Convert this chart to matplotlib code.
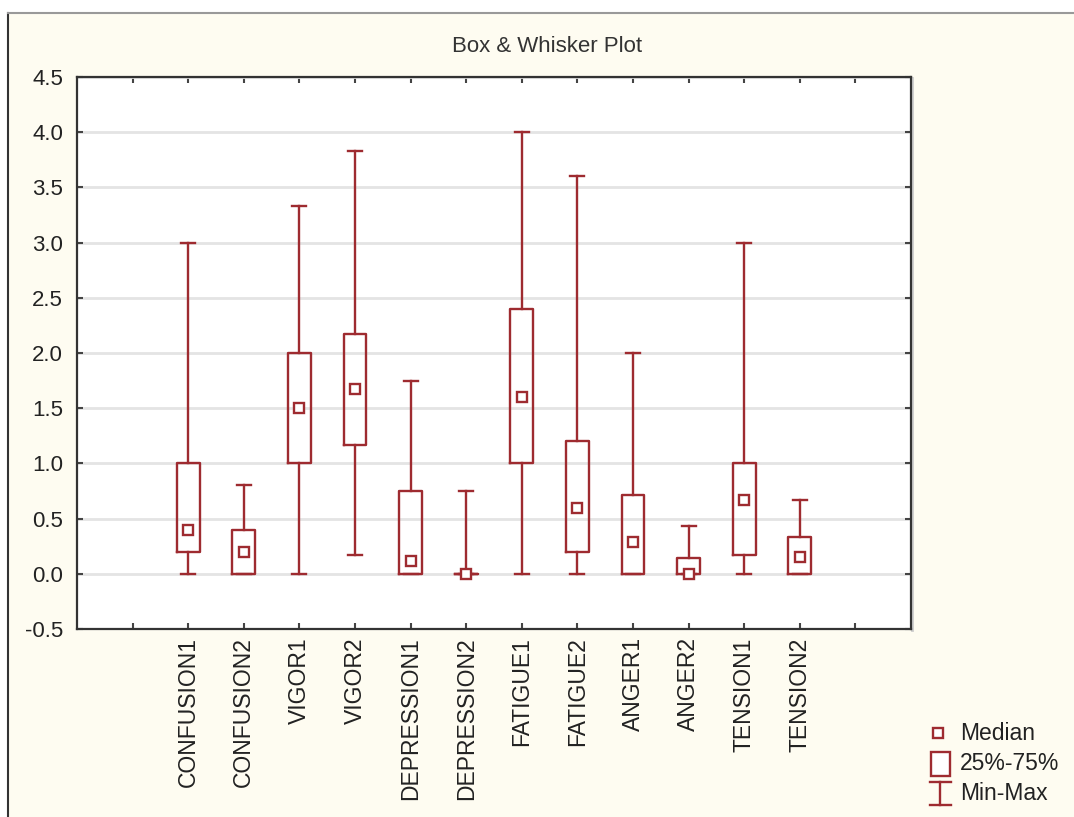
import matplotlib
matplotlib.use("Agg")
import matplotlib.pyplot as plt
from matplotlib.patches import Rectangle

plt.rcParams['font.family'] = ['Liberation Sans', 'DejaVu Sans']

categories = ["CONFUSION1", "CONFUSION2", "VIGOR1", "VIGOR2", "DEPRESSION1", "DEPRESSION2",
              "FATIGUE1", "FATIGUE2", "ANGER1", "ANGER2", "TENSION1", "TENSION2"]
mins    = [0.0, 0.0, 0.0, 0.17, 0.0, 0.0, 0.0, 0.0, 0.0, 0.0, 0.0, 0.0]
q1s     = [0.2, 0.0, 1.0, 1.17, 0.0, 0.0, 1.0, 0.2, 0.0, 0.0, 0.17, 0.0]
medians = [0.4, 0.2, 1.5, 1.67, 0.12, 0.0, 1.6, 0.6, 0.29, 0.0, 0.67, 0.15]
q3s     = [1.0, 0.4, 2.0, 2.17, 0.75, 0.0, 2.4, 1.2, 0.71, 0.14, 1.0, 0.33]
maxs    = [3.0, 0.8, 3.33, 3.83, 1.75, 0.75, 4.0, 3.6, 2.0, 0.43, 3.0, 0.67]
yticks  = [-0.5, 0.0, 0.5, 1.0, 1.5, 2.0, 2.5, 3.0, 3.5, 4.0, 4.5]
legend_labels = ["Median", "25%-75%", "Min-Max"]

RED = '#9E2B30'
CREAM = '#FEFCF1'
W, H = 1074, 817

fig = plt.figure(figsize=(W / 100, H / 100), dpi=100, facecolor='white')

# background panel / legend overlay in pixel coords
bg = fig.add_axes([0, 0, 1, 1], zorder=0)
bg.set_xlim(0, W)
bg.set_ylim(H, 0)
bg.axis('off')
bg.add_patch(Rectangle((8, 13), W - 8, H - 13, facecolor=CREAM, edgecolor='none'))
bg.plot([8, 8], [13, H], color='#333333', lw=1.5)
bg.plot([8, W], [13, 13], color='#999999', lw=1.5)
bg.plot([912, 912], [78, 630], color='#cccccc', lw=2)

ax = fig.add_axes([77 / W, 1 - 629 / H, (911 - 77) / W, (629 - 77) / H], zorder=1)
ax.set_facecolor('white')

positions = list(range(1, len(categories) + 1))
stats = []
for i, c in enumerate(categories):
    stats.append(dict(label=c, whislo=mins[i], q1=q1s[i], med=medians[i],
                      q3=q3s[i], whishi=maxs[i], fliers=[]))

ax.bxp(stats, positions=positions, widths=0.41, capwidths=0.25,
       boxprops=dict(color=RED, lw=1.7),
       whiskerprops=dict(color=RED, lw=1.7),
       capprops=dict(color=RED, lw=1.7),
       medianprops=dict(linestyle='none'),
       showfliers=False, manage_ticks=False, zorder=3)
ax.plot(positions, medians, linestyle='none', marker='s', ms=7, mfc='white',
        mec=RED, mew=1.7, zorder=4)

ax.set_xlim(-1, 14)
ax.set_ylim(-0.5, 4.5)
ax.set_yticks(yticks)
ax.set_yticklabels([f"{v:.1f}" for v in yticks], fontsize=16, color='#222222')
ax.set_xticks(range(0, 14))
ax.set_xticklabels([""] + categories + [""], rotation=90, fontsize=16.5, color='#222222')
ax.yaxis.grid(True, color='#e4e4e4', lw=2)
ax.set_axisbelow(True)
ax.tick_params(direction='in', length=4, width=1.5, color='#444444',
               top=True, right=True)
ax.tick_params(axis='x', pad=6)
ax.tick_params(axis='y', pad=10)
for s in ax.spines.values():
    s.set_color('#333333')
    s.set_linewidth(1.6)

fig.text(547 / W, 1 - 46 / H, "Box & Whisker Plot", ha='center', va='center',
         fontsize=16, color='#333333')

# legend (drawn manually)
bg.plot([938], [733], marker='s', ms=7, mfc='white', mec=RED, mew=1.7, linestyle='none')
bg.add_patch(Rectangle((931, 752), 19, 24, facecolor='white', edgecolor=RED, lw=1.7))
bg.plot([940, 940], [782, 805], color=RED, lw=1.7)
bg.plot([930, 951], [782, 782], color=RED, lw=1.7)
bg.plot([930, 951], [805, 805], color=RED, lw=1.7)
for lab, yy in zip(legend_labels, [734, 764, 794]):
    bg.text(960, yy, lab, ha='left', va='center', fontsize=16.5, color='#222222')

fig.savefig("out.png", dpi=100, facecolor='white')
